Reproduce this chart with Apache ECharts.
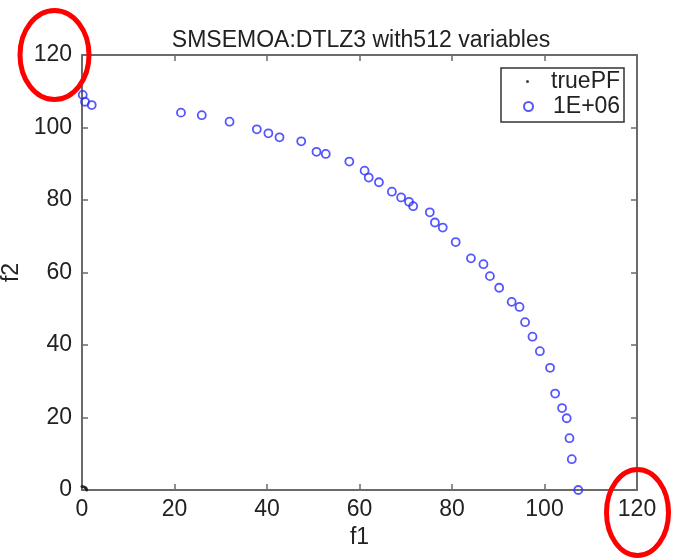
<!DOCTYPE html>
<html>
<head>
<meta charset="utf-8">
<script src="https://cdn.jsdelivr.net/npm/echarts@6/dist/echarts.min.js"></script>
<style>
  html, body { margin: 0; padding: 0; background: #fff; }
  #chart { width: 673px; height: 560px; }
</style>
</head>
<body>
<div id="chart"></div>
<script>
// Axis ticks
const xTicks = [0, 20, 40, 60, 80, 100, 120];
const yTicks = [0, 20, 40, 60, 80, 100, 120];

// Reference front (unit sphere, sits at the origin at this scale)
const truePF_f1 = [0, 0.38, 0.71, 0.92, 1];
const truePF_f2 = [1, 0.92, 0.71, 0.38, 0];

// Final population after 1E+06 evaluations
const pop_f1 = [0.15, 0.65, 2.1, 21.4, 25.9, 31.9, 37.8, 40.3, 42.7, 47.4, 50.7, 52.7, 57.8, 61.1, 62.0,
  64.2, 67.0, 69.0, 70.7, 71.6, 75.2, 76.3, 78.0, 80.8, 84.1, 86.8, 88.2, 90.2, 92.9, 94.6,
  95.8, 97.4, 99.0, 101.2, 102.3, 103.8, 104.8, 105.4, 105.9, 107.3];
const pop_f2 = [109.0, 107.1, 106.2, 104.1, 103.4, 101.6, 99.5, 98.4, 97.3, 96.2, 93.3, 92.7, 90.6, 88.1, 86.2,
  84.9, 82.3, 80.7, 79.5, 78.3, 76.6, 73.8, 72.4, 68.4, 63.9, 62.3, 59.0, 55.8, 51.9, 50.5,
  46.3, 42.3, 38.3, 33.7, 26.6, 22.6, 19.8, 14.3, 8.5, 0];

const seriesNames = ['truePF', '1E+06'];
const titleText = 'SMSEMOA:DTLZ3 with512 variables';

const FONT = '"Liberation Sans", Arial, Helvetica, sans-serif';
const AXIS_COLOR = '#6b6b6b';
const TEXT_COLOR = '#222';
const BLUE = '#2c2cff';

const zip = (a, b) => a.map((v, i) => [v, b[i]]);

const chart = echarts.init(document.getElementById('chart'), null, { renderer: 'canvas' });

const baseAxis = {
  min: 0, max: 120, interval: 20,
  axisLine: { show: true, onZero: false, lineStyle: { color: AXIS_COLOR, width: 2 } },
  axisTick: { show: true, inside: true, length: 6, lineStyle: { color: AXIS_COLOR, width: 1.5 } },
  splitLine: { show: false }
};

chart.setOption({
  animation: false,
  backgroundColor: '#fff',
  title: {
    text: titleText, left: 356, top: 24, textAlign: 'center',
    textStyle: { fontFamily: FONT, fontSize: 23, fontWeight: 'normal', color: TEXT_COLOR }
  },
  grid: { left: 82, right: 36, top: 55, bottom: 70, containLabel: false, outerBoundsMode: 'none' },
  xAxis: [
    Object.assign({}, baseAxis, {
      type: 'value', position: 'bottom',
      name: 'f1', nameLocation: 'middle', nameGap: 33,
      nameTextStyle: { fontFamily: FONT, fontSize: 23, color: TEXT_COLOR },
      axisLabel: {
        fontFamily: FONT, fontSize: 23, color: TEXT_COLOR, margin: 8,
        formatter: v => (xTicks.includes(v) ? String(v) : '')
      }
    }),
    Object.assign({}, baseAxis, { type: 'value', position: 'top', axisLabel: { show: false } })
  ],
  yAxis: [
    Object.assign({}, baseAxis, {
      type: 'value', position: 'left',
      name: 'f2', nameLocation: 'middle', nameGap: 47,
      nameTextStyle: { fontFamily: FONT, fontSize: 23, color: TEXT_COLOR },
      axisLabel: {
        fontFamily: FONT, fontSize: 23, color: TEXT_COLOR, margin: 10,
        formatter: v => (yTicks.includes(v) ? String(v) : '')
      }
    }),
    Object.assign({}, baseAxis, { type: 'value', position: 'right', axisLabel: { show: false } })
  ],
  legend: [
    {
      data: [{ name: seriesNames[0], icon: 'circle' }],
      left: 526, top: 70, orient: 'vertical', padding: 0,
      itemWidth: 3, itemHeight: 3, itemGap: 0,
      textStyle: { fontFamily: FONT, fontSize: 23, color: TEXT_COLOR, padding: [0, 0, 0, 17] },
      selectedMode: false
    },
    {
      data: [{ name: seriesNames[1], icon: 'circle' }],
      left: 523, top: 95, orient: 'vertical', padding: 0,
      itemWidth: 9, itemHeight: 9, itemGap: 0,
      textStyle: { fontFamily: FONT, fontSize: 23, color: TEXT_COLOR, padding: [0, 0, 0, 15] },
      selectedMode: false
    }
  ],
  graphic: [
    // legend frame
    {
      type: 'rect', z: 5,
      shape: { x: 501, y: 68, width: 123, height: 54 },
      style: { fill: 'rgba(255,255,255,0)', stroke: '#333', lineWidth: 1.5 }
    },
    // red highlight rings around the axis end labels
    {
      type: 'ellipse', z: 20,
      shape: { cx: 54.5, cy: 55, rx: 34.5, ry: 44.5 },
      style: { fill: 'none', stroke: '#ff0000', lineWidth: 5 }
    },
    {
      type: 'ellipse', z: 20,
      shape: { cx: 637.5, cy: 512.5, rx: 31, ry: 43 },
      style: { fill: 'none', stroke: '#ff0000', lineWidth: 5 }
    }
  ],
  series: [
    {
      name: seriesNames[0], type: 'scatter', xAxisIndex: 0, yAxisIndex: 0,
      data: zip(truePF_f1, truePF_f2),
      symbol: 'circle', symbolSize: 3,
      itemStyle: { color: '#111' }, z: 3
    },
    {
      name: seriesNames[1], type: 'scatter', xAxisIndex: 0, yAxisIndex: 0,
      data: zip(pop_f1, pop_f2),
      symbol: 'circle', symbolSize: 8,
      itemStyle: { color: 'rgba(255,255,255,0)', borderColor: BLUE, borderWidth: 1.8 },
      z: 4
    }
  ]
});
</script>
</body>
</html>
